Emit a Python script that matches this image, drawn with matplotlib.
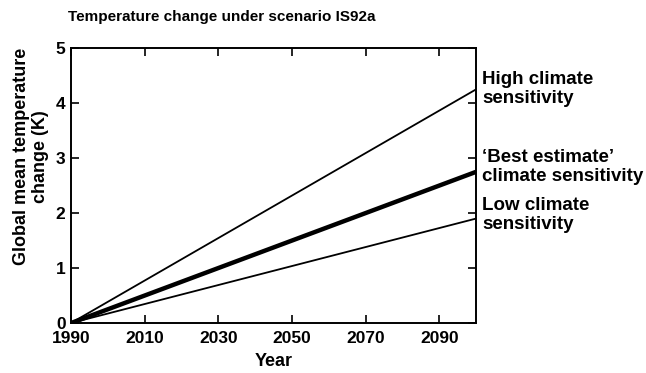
import numpy as np
import matplotlib.pyplot as plt

plt.rcParams['font.family'] = ['Liberation Sans', 'DejaVu Sans']
plt.rcParams['font.weight'] = 'bold'

# projected warming under IS92a, linear from 1990 to 2100
years = [1990, 2100]
high_sens = [0.0, 4.25]
best_sens = [0.0, 2.75]
low_sens = [0.0, 1.9]

x_ticks = [1990, 2010, 2030, 2050, 2070, 2090]
y_ticks = [0, 1, 2, 3, 4, 5]

fig = plt.figure(figsize=(6.46, 3.73), dpi=100)
ax = fig.add_axes([0.110, 0.134, 0.627, 0.737])

ax.plot(years, high_sens, color='black', lw=1.3, solid_capstyle='butt')
ax.plot(years, best_sens, color='black', lw=3.2, solid_capstyle='butt')
ax.plot(years, low_sens, color='black', lw=1.3, solid_capstyle='butt')

ax.set_xlim(1990, 2100)
ax.set_ylim(0, 5)
ax.set_xticks(x_ticks)
ax.set_yticks(y_ticks)
ax.tick_params(direction='in', length=6, width=1.2, top=True, right=True,
               labelsize=12.5)
ax.tick_params(axis='x', pad=6)
ax.tick_params(axis='y', pad=4)
for lab in ax.get_xticklabels() + ax.get_yticklabels():
    lab.set_fontweight('bold')
# keep the zero a little clear of the 1990 label below it
ax.get_yticklabels()[0].set_va('center_baseline')
for sp in ax.spines.values():
    sp.set_linewidth(1.4)

ax.set_xlabel('Year', fontsize=13, fontweight='bold', labelpad=5)
fig.text(0.048, 0.58, 'Global mean temperature\nchange (K)', rotation=90,
         ha='center', va='center', fontsize=13, fontweight='bold',
         linespacing=1.12)

fig.text(0.344, 0.955, 'Temperature change under scenario IS92a',
         ha='center', va='center', fontsize=11, fontweight='bold')

# curve labels beside the right axis
label_kw = dict(transform=ax.transData, ha='left', va='center', fontsize=13.5,
                fontweight='bold', linespacing=1.15, clip_on=False)
ax.text(2101.6, 4.25, 'High climate\nsensitivity', **label_kw)
ax.text(2101.6, 2.84, '\u2018Best estimate\u2019\nclimate sensitivity', **label_kw)
ax.text(2101.6, 1.97, 'Low climate\nsensitivity', **label_kw)

fig.savefig('out.png', dpi=100)
